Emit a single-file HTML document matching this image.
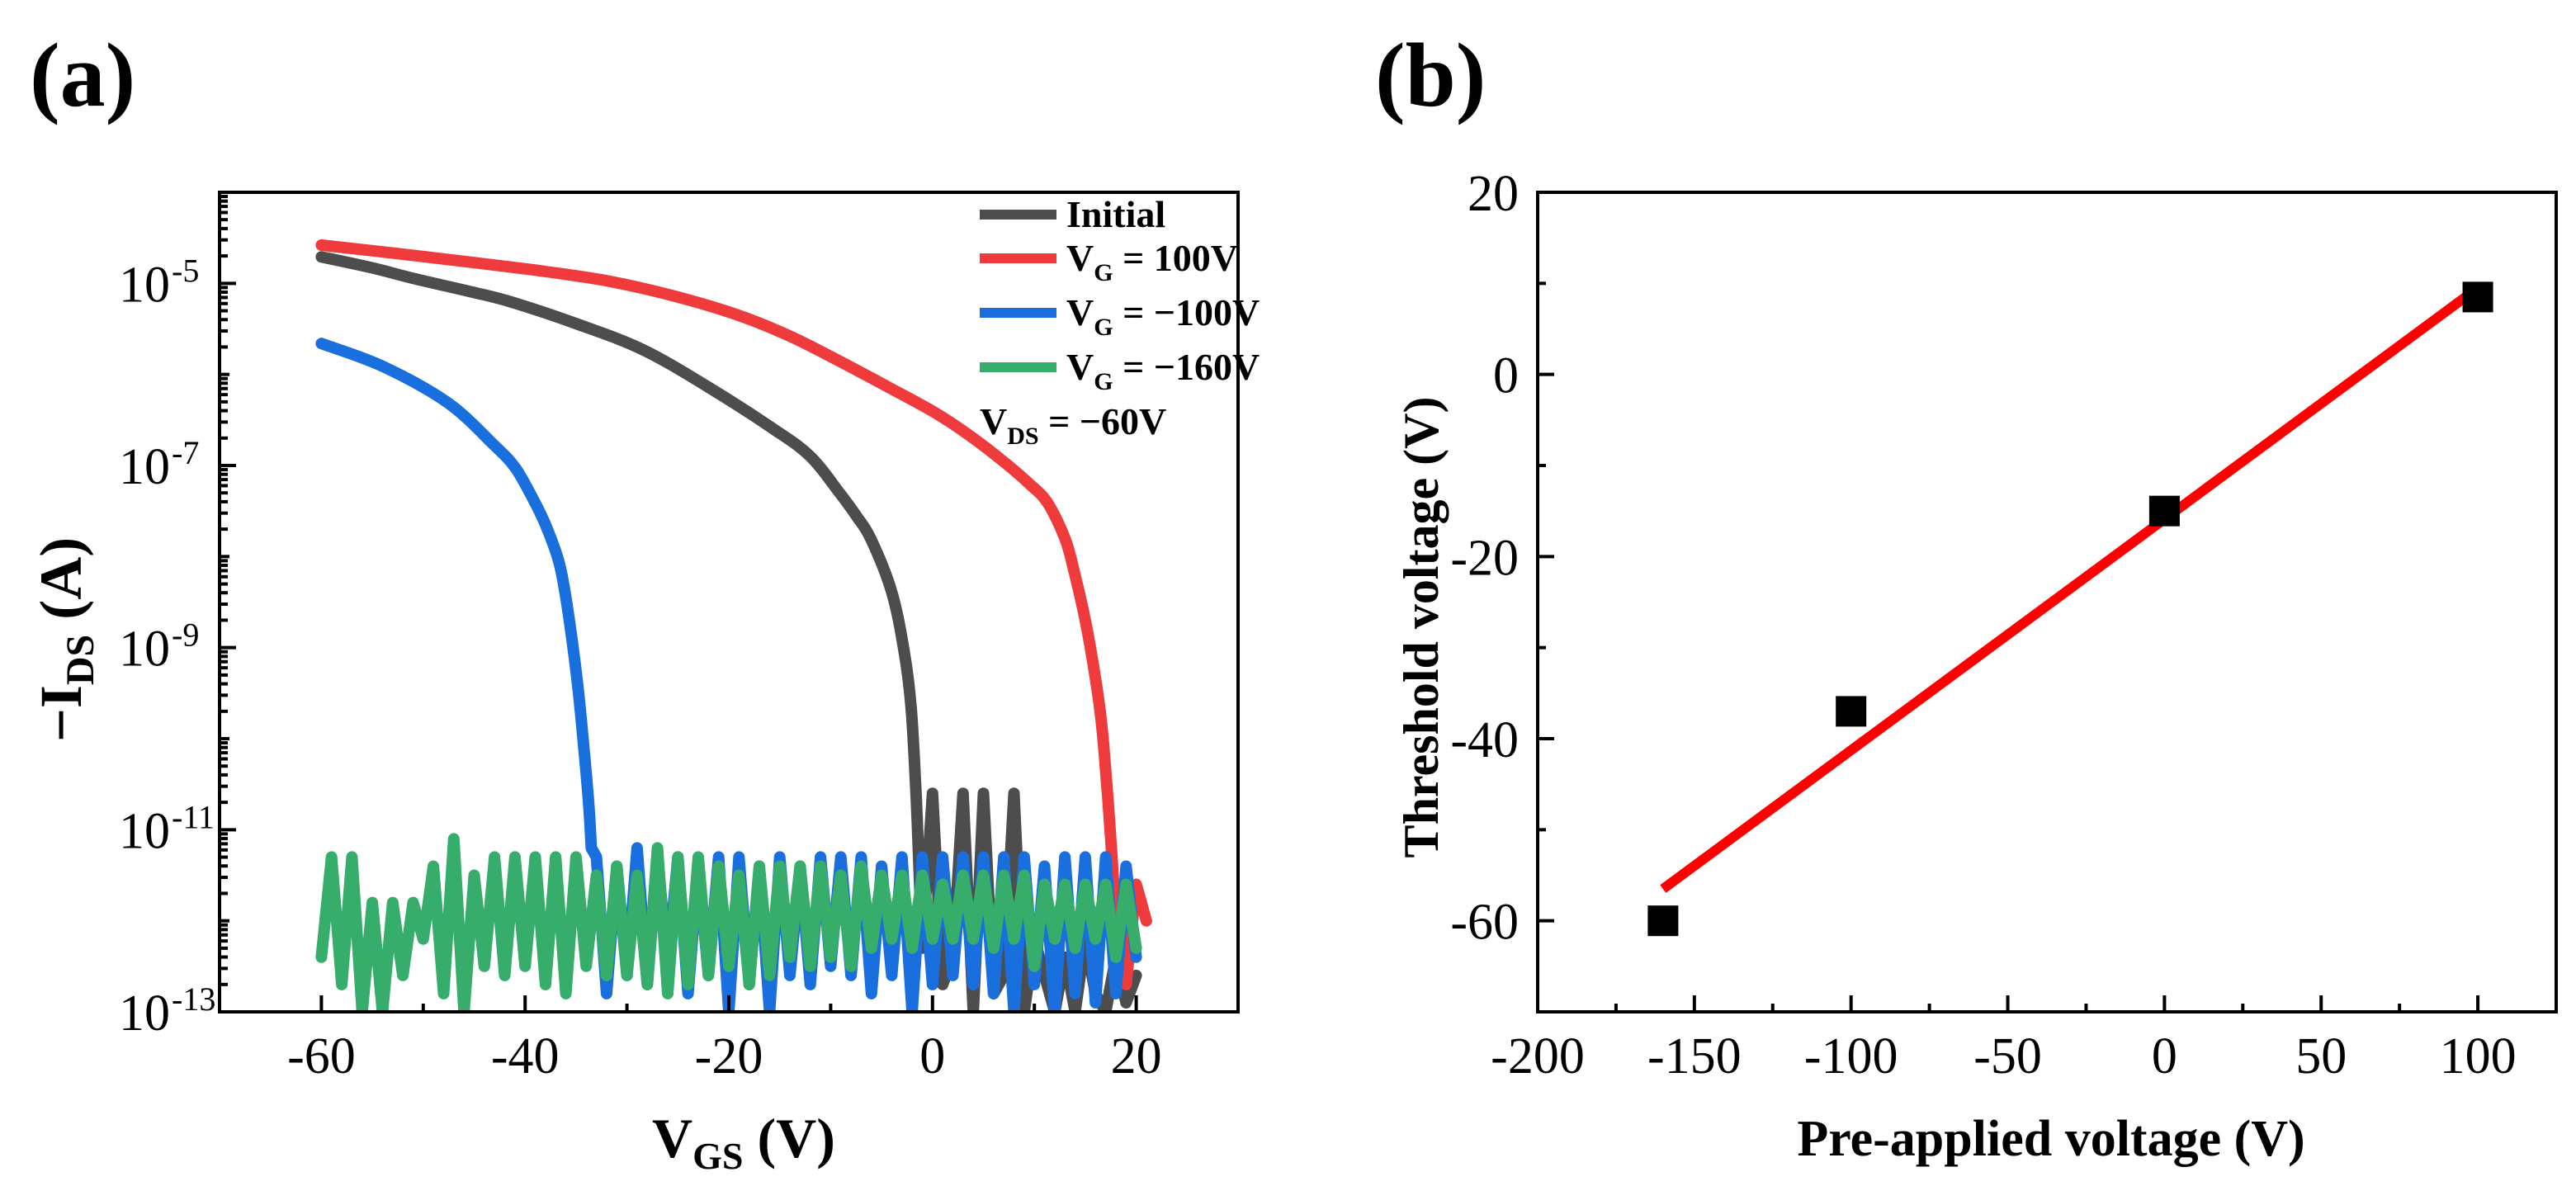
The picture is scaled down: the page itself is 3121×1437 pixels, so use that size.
<!DOCTYPE html>
<html><head><meta charset="utf-8"><style>
html,body{margin:0;padding:0;background:#fff;}
svg{display:block;font-family:"Liberation Serif",serif;}
</style></head><body>
<svg id="fig" width="3121" height="1437" viewBox="0 0 3121 1437" xmlns="http://www.w3.org/2000/svg">
<g id="pa"></g>
<g id="pb"></g>
</svg>
<script>
// ---------- Panel (a) data ----------
const initialV = [-60,-55,-50.8,-45,-41.2,-34.8,-28.4,-22,-15.6,-12,-9.2,-7.5,-6,-4,-2.8,-2.1,-1.6,-1.3];
const initialLog = [-4.71,-4.83,-4.95,-5.1,-5.21,-5.45,-5.73,-6.14,-6.6,-6.9,-7.29,-7.55,-7.82,-8.39,-9.03,-9.66,-10.65,-11.5];
const redV = [-60,-52,-44.4,-38,-31.6,-25,-18.8,-14,-9.2,-4.5,0.4,4,6.9,9.5,11.3,13,13.9,15,15.8,16.4,16.8,17.4,17.9];
const redLog = [-4.58,-4.68,-4.78,-4.87,-4.98,-5.15,-5.36,-5.58,-5.85,-6.13,-6.43,-6.7,-6.95,-7.2,-7.41,-7.8,-8.16,-8.7,-9.2,-9.65,-10.07,-10.94,-11.8];
const blueV = [-60,-54,-47.6,-43.1,-41,-39.3,-38,-36.7,-36,-35.4,-34.9,-34.5,-33.8,-33.5];
const blueLog = [-5.66,-5.91,-6.31,-6.77,-7.02,-7.35,-7.65,-8.05,-8.45,-8.91,-9.35,-9.78,-10.65,-11.2];
// noise tails (1 V steps)
const initialNoiseStart = -1;
const initialNoise = [-12.3,-10.6,-12.7,-12.4,-10.6,-13,-10.6,-12.8,-12.6,-10.6,-13,-12.2,-12.6,-13,-12.4,-13,-12.2,-12.8,-13,-12.4,-12.9,-12.6];
const redNoiseStart = 18;
const redNoise = [-11.7,-12.7,-11.6,-12.0];
const blueNoiseStart = -33;
const blueNoise = [-11.3,-12.8,-11.4,-12.6,-11.2,-12.7,-11.3,-12.5,-11.3,-12.8,-11.4,-12.6,-11.3,-13,-11.3,-12.7,-11.4,-13,-11.3,-12.6,-11.4,-12.7,-11.3,-12.5,-11.3,-12.6,-11.3,-12.8,-11.4,-12.6,-11.3,-13,-11.3,-12.7,-11.3,-12.6,-11.3,-12.7,-11.3,-12.8,-11.3,-13,-11.3,-12.7,-11.4,-13,-11.3,-12.8,-11.3,-12.9,-11.3,-12.8,-11.4,-12.4];
const greenNoiseStart = -60;
const greenNoise = [-12.4,-11.3,-12.7,-11.3,-13,-11.8,-13,-11.8,-12.6,-11.8,-12.2,-11.4,-12.8,-11.1,-13,-11.5,-12.5,-11.3,-12.6,-11.3,-12.5,-11.3,-12.7,-11.3,-12.8,-11.3,-12.5,-11.5,-12.6,-11.4,-12.6,-11.5,-12.7,-11.2,-12.8,-11.3,-12.7,-11.3,-12.6,-11.4,-12.5,-11.5,-12.7,-11.4,-12.6,-11.4,-12.4,-11.4,-12.5,-11.4,-12.4,-11.5,-12.5,-11.4,-12.3,-11.5,-12.2,-11.5,-12.3,-11.5,-12.2,-11.6,-12.2,-11.5,-12.2,-11.5,-12.3,-11.5,-12.2,-11.5,-12.5,-11.6,-12.2,-11.6,-12.3,-11.6,-12.2,-11.6,-12.4,-11.6,-12.3];
const aXTicks = [-60,-40,-20,0,20];
const aYTickExps = [-5,-7,-9,-11,-13];
const legendLabels = ["Initial","V_G = 100V","V_G = \u2212100V","V_G = \u2212160V"];

// ---------- Panel (b) data ----------
const preV = [-160,-100,0,100];
const vth = [-60,-37,-15,8.5];
const fitX = [-160,100];
const fitY = [-56.5,9.5];
const bXTicks = [-200,-150,-100,-50,0,50,100];
const bYTicks = [-60,-40,-20,0,20];

const NS="http://www.w3.org/2000/svg";
function mk(parent,tag,attrs){const e=document.createElementNS(NS,tag);for(const k in attrs)e.setAttribute(k,attrs[k]);parent.appendChild(e);return e;}

// ---- axes (a)
const aL=266,aR=1500,aT=233,aB=1226;
const ax=v=>aL+(v-(-70))/100*(aR-aL);
const ay=l=>aB-(l-(-13))/9*(aB-aT);
const pa=document.getElementById('pa');
const defs=mk(pa,'defs',{});
const cp=mk(defs,'clipPath',{id:'clipA'});
mk(cp,'rect',{x:aL,y:aT,width:aR-aL,height:aB-aT});

function smoothPath(pts){
  if(!pts.length)return '';
  let d='M'+pts[0][0].toFixed(1)+' '+pts[0][1].toFixed(1);
  for(let i=0;i<pts.length-1;i++){
    const p0=pts[Math.max(i-1,0)],p1=pts[i],p2=pts[i+1],p3=pts[Math.min(i+2,pts.length-1)];
    const c1x=p1[0]+(p2[0]-p0[0])/6,c1y=p1[1]+(p2[1]-p0[1])/6;
    const c2x=p2[0]-(p3[0]-p1[0])/6,c2y=p2[1]-(p3[1]-p1[1])/6;
    d+=' C'+c1x.toFixed(1)+' '+c1y.toFixed(1)+' '+c2x.toFixed(1)+' '+c2y.toFixed(1)+' '+p2[0].toFixed(1)+' '+p2[1].toFixed(1);
  }
  return d;
}
function series(cv,cl,start,noise,color,name){
  const pts=cv.map((x,i)=>[ax(x),ay(cl[i])]);
  let d=smoothPath(pts);
  noise.forEach((n,i)=>{const x=ax(start+i),y=ay(Math.max(n,-13.3));d+=(d?' L':'M')+x.toFixed(1)+' '+y.toFixed(1);});
  const p=mk(pa,'path',{d:d,fill:'none',stroke:color,'stroke-width':14,'stroke-linejoin':'round','stroke-linecap':'round','clip-path':'url(#clipA)'});
  
  
}
series(initialV,initialLog,initialNoiseStart,initialNoise,'#4d4d4d','initial-curve');
series(redV,redLog,redNoiseStart,redNoise,'#ef3b3b','vg-100v-curve');
series(blueV,blueLog,blueNoiseStart,blueNoise,'#1a6fdf','vg-minus100v-curve');
series([],[],greenNoiseStart,greenNoise,'#37ad6b','vg-minus160v-curve');

let fr=mk(pa,'rect',{x:aL,y:aT,width:aR-aL,height:aB-aT,fill:'none',stroke:'#000','stroke-width':4});


for(let v=-70;v<=30;v+=10){
  const major=(v%20===0);
  mk(pa,'line',{x1:ax(v),x2:ax(v),y1:aB,y2:aB-(major?20:10),stroke:'#000','stroke-width':4});
}
aXTicks.forEach(v=>{const t=mk(pa,'text',{x:ax(v),y:1300,'font-size':62,'text-anchor':'middle'});t.textContent=String(v);
  
  });
for(let e=-13;e<=-4;e++){
  const major=(e%2!==0);
  mk(pa,'line',{x1:aL,x2:aL+(major?20:12),y1:ay(e),y2:ay(e),stroke:'#000','stroke-width':4});
  if(e<-4)for(let m=2;m<=9;m++){const y=ay(e+Math.log10(m));mk(pa,'line',{x1:aL,x2:aL+10,y1:y,y2:y,stroke:'#000','stroke-width':4});}
}
aYTickExps.forEach(e=>{
  const t=mk(pa,'text',{x:206,y:ay(e)+22,'font-size':62,'text-anchor':'end'});t.textContent='10';
  
  
  const sp=mk(pa,'text',{x:208,y:ay(e)-2,'font-size':40,'text-anchor':'start'});sp.textContent=String(e);
  
  
});
let t=mk(pa,'text',{x:36,y:128,'font-size':110,'font-weight':'bold'});t.textContent='(a)';

t=mk(pa,'text',{x:790,y:1402,'font-size':68,'font-weight':'bold'});
t.innerHTML='V<tspan font-size="46" dy="14">GS</tspan><tspan dy="-14"> (V)</tspan>';

t=mk(pa,'text',{x:0,y:0,'font-size':72,'font-weight':'bold','text-anchor':'middle',transform:'translate(98,775) rotate(-90)'});
t.innerHTML='\u2212I<tspan font-size="48" dy="15">DS</tspan><tspan dy="-15"> (A)</tspan>';

const legColors=['#4d4d4d','#ef3b3b','#1a6fdf','#37ad6b'];
const legY=[260,313,379,445];
legendLabels.forEach((lab,i)=>{
  const g=mk(pa,'g',{});
  
  
  mk(g,'line',{x1:1187,x2:1280,y1:legY[i],y2:legY[i],stroke:legColors[i],'stroke-width':12});
  const tx=mk(g,'text',{x:1292,y:legY[i]+15,'font-size':46,'font-weight':'bold'});
  if(lab.indexOf('_')>=0){const p=lab.split('_');tx.innerHTML='V<tspan font-size="30" dy="12">'+p[1].slice(0,1)+'</tspan><tspan dy="-12">'+p[1].slice(1)+'</tspan>';}
  else tx.textContent=lab;
});
t=mk(pa,'text',{x:1187,y:526,'font-size':46,'font-weight':'bold'});
t.innerHTML='V<tspan font-size="30" dy="12">DS</tspan><tspan dy="-12"> = \u221260V</tspan>';


// ---- axes (b)
const pb=document.getElementById('pb');
const bL=1863,bR=3097,bT=233,bB=1226;
const bx=v=>bL+(v-(-200))/325*(bR-bL);
const by=v=>bB-(v-(-70))/90*(bB-bT);
const fl=mk(pb,'line',{x1:bx(fitX[0]),y1:by(fitY[0]),x2:bx(fitX[1]),y2:by(fitY[1]),stroke:'#ff0000','stroke-width':12});


preV.forEach((v,i)=>{
  const r=mk(pb,'rect',{x:bx(v)-18.5,y:by(vth[i])-18.5,width:37,height:37,fill:'#000'});
  
  
});
fr=mk(pb,'rect',{x:bL,y:bT,width:bR-bL,height:bB-bT,fill:'none',stroke:'#000','stroke-width':4});

for(let v=-200;v<=125;v+=25){const major=(v%50===0);mk(pb,'line',{x1:bx(v),x2:bx(v),y1:bB,y2:bB-(major?20:10),stroke:'#000','stroke-width':4});}
for(let v=-70;v<=20;v+=10){const major=(v%20===0);mk(pb,'line',{x1:bL,x2:bL+(major?20:10),y1:by(v),y2:by(v),stroke:'#000','stroke-width':4});}
bXTicks.forEach(v=>{const tt=mk(pb,'text',{x:bx(v),y:1300,'font-size':62,'text-anchor':'middle'});tt.textContent=String(v);
  
  });
bYTicks.forEach(v=>{const tt=mk(pb,'text',{x:1840,y:by(v)+22,'font-size':62,'text-anchor':'end'});tt.textContent=String(v);
  
  });
t=mk(pb,'text',{x:1666,y:128,'font-size':110,'font-weight':'bold'});t.textContent='(b)';

t=mk(pb,'text',{x:2485,y:1400,'font-size':62,'font-weight':'bold','text-anchor':'middle'});t.textContent='Pre-applied voltage (V)';

t=mk(pb,'text',{x:0,y:0,'font-size':60,'font-weight':'bold','text-anchor':'middle',transform:'translate(1742,760) rotate(-90)'});t.textContent='Threshold voltage (V)';

</script>
</body></html>
